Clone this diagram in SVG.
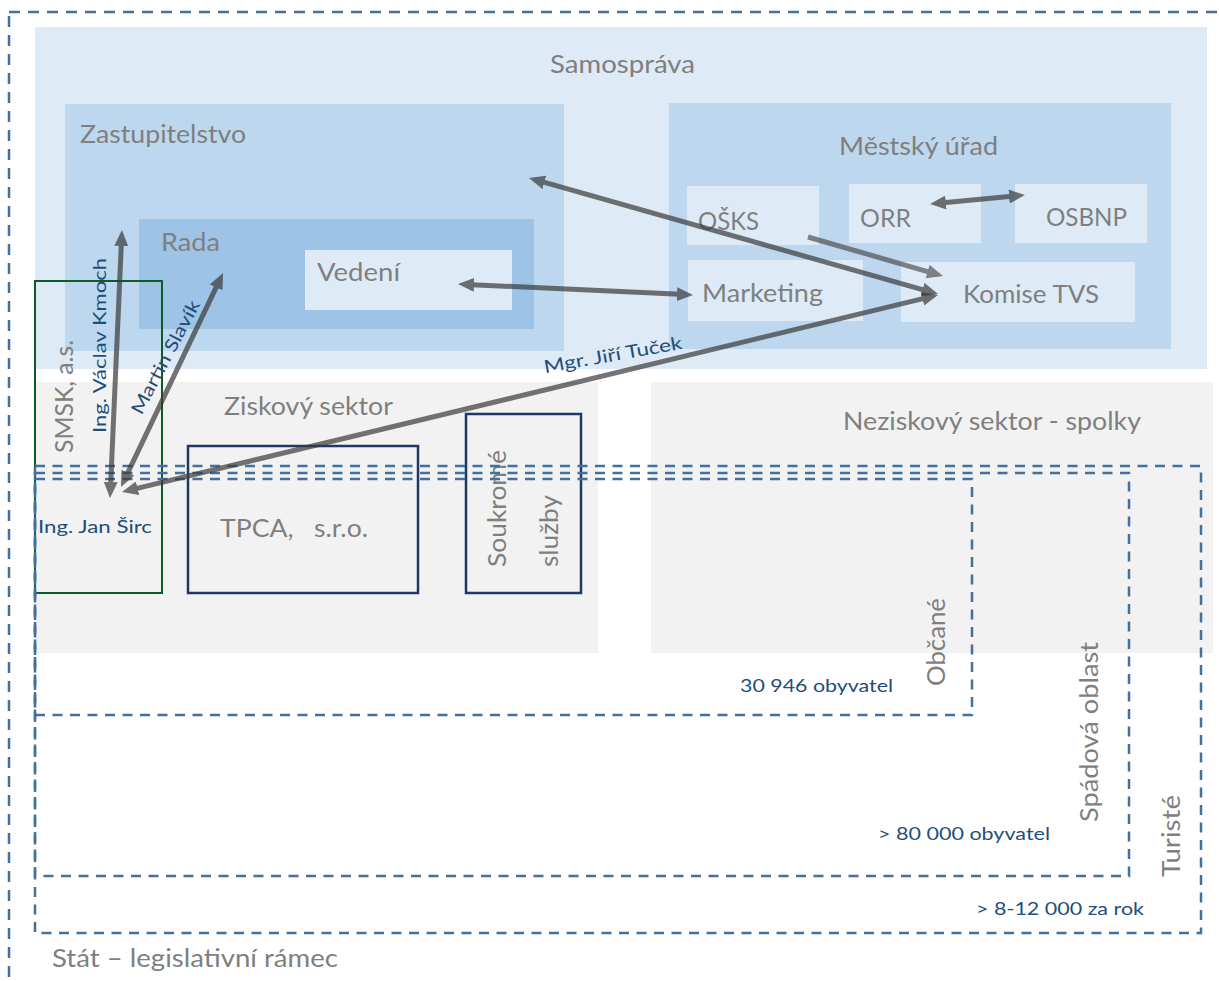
<svg xmlns="http://www.w3.org/2000/svg" width="1219" height="981" viewBox="0 0 1219 981">
<style>
.g{font-family:Lato,"Open Sans","Liberation Sans",sans-serif;fill:#7f7f7f;font-size:25px}
.b{font-family:Lato,"Open Sans","Liberation Sans",sans-serif;fill:#1f4e79;font-size:18px}
.dash{fill:none;stroke:#41719c;stroke-width:2.5;stroke-dasharray:10 7.5}
.odash{fill:none;stroke:#41719c;stroke-width:2.5;stroke-dasharray:11 8}
.l1{fill:#deeaf6}.l2{fill:#bdd7ee}.l3{fill:#9dc3e6}.l4{fill:#deebf7}
.sec{fill:#f2f2f2}
.navy{fill:none;stroke:#203864;stroke-width:2.5}
.arr{fill:none;stroke:#3a3a3a;stroke-width:5;marker-start:url(#ah);marker-end:url(#ah);opacity:0.7}
</style>
<defs>
<marker id="ah" viewBox="0 0 16 14" refX="8" refY="7" markerWidth="16" markerHeight="14" markerUnits="userSpaceOnUse" orient="auto-start-reverse"><path d="M0,0 L16,7 L0,14 z" fill="#3a3a3a"/></marker>
</defs>
<rect width="1219" height="981" fill="#ffffff"/>
<g id="stat"><rect class="odash" x="9" y="12" width="1240" height="1000"/>
<text class="g" x="52" y="967" font-size="23" textLength="286" lengthAdjust="spacingAndGlyphs">Stát – legislativní rámec</text></g>
<g id="samosprava"><rect class="l1" x="35" y="27" width="1172" height="342"/>
<text class="g" x="550" y="73" textLength="145" lengthAdjust="spacingAndGlyphs">Samospráva</text></g>
<g id="zastupitelstvo"><rect class="l2" x="65" y="104" width="499" height="247"/>
<text class="g" x="80" y="143" textLength="166" lengthAdjust="spacingAndGlyphs">Zastupitelstvo</text></g>
<g id="rada"><rect class="l3" x="139" y="219" width="395" height="110"/>
<text class="g" x="161" y="251" textLength="59" lengthAdjust="spacingAndGlyphs">Rada</text></g>
<g id="vedeni"><rect class="l4" x="305" y="250" width="207" height="60"/>
<text class="g" x="317" y="281" textLength="83" lengthAdjust="spacingAndGlyphs">Vedení</text></g>
<g id="mestsky-urad"><rect class="l2" x="669" y="103" width="502" height="246"/>
<text class="g" x="839" y="155" textLength="159" lengthAdjust="spacingAndGlyphs">Městský úřad</text></g>
<g id="osks"><rect class="l4" x="687" y="186" width="132" height="59"/>
<text class="g" x="698" y="230" textLength="61" lengthAdjust="spacingAndGlyphs">OŠKS</text></g>
<g id="orr"><rect class="l4" x="849" y="184" width="132" height="59"/>
<text class="g" x="860" y="227" textLength="51" lengthAdjust="spacingAndGlyphs">ORR</text></g>
<g id="osbnp"><rect class="l4" x="1015" y="184" width="132" height="59"/>
<text class="g" x="1046" y="226" textLength="81" lengthAdjust="spacingAndGlyphs">OSBNP</text></g>
<g id="marketing"><rect class="l4" x="688" y="260" width="175" height="61"/>
<text class="g" x="702" y="302" textLength="121" lengthAdjust="spacingAndGlyphs">Marketing</text></g>
<g id="komise-tvs"><rect class="l4" x="901" y="262" width="234" height="60"/>
<text class="g" x="963" y="303" textLength="136" lengthAdjust="spacingAndGlyphs">Komise TVS</text></g>
<g id="ziskovy-sektor"><rect class="sec" x="35" y="382" width="563" height="271"/>
<text class="g" x="224" y="415" textLength="169" lengthAdjust="spacingAndGlyphs">Ziskový sektor</text></g>
<g id="neziskovy-sektor"><rect class="sec" x="651" y="382" width="562" height="271"/>
<text class="g" x="843" y="430" textLength="298" lengthAdjust="spacingAndGlyphs">Neziskový sektor - spolky</text></g>
<g id="smsk"><rect x="35" y="281" width="127" height="312" fill="none" stroke="#0e5b2a" stroke-width="2"/>
<text class="g" transform="translate(73,453) rotate(-90)" font-size="22" textLength="113" lengthAdjust="spacingAndGlyphs">SMSK, a.s.</text></g>
<g id="tpca"><rect class="navy" x="188" y="446" width="230" height="147"/>
<text class="g" x="220" y="537" xml:space="preserve" textLength="148" lengthAdjust="spacingAndGlyphs">TPCA,   s.r.o.</text></g>
<g id="soukrome-sluzby"><rect class="navy" x="466" y="414" width="115" height="179"/>
<text class="g" transform="translate(506,567) rotate(-90)" textLength="117" lengthAdjust="spacingAndGlyphs">Soukromé</text>
<text class="g" transform="translate(558,567) rotate(-90)" textLength="72" lengthAdjust="spacingAndGlyphs">služby</text></g>
<g id="obcane"><rect class="dash" x="35" y="479" width="937" height="236"/>
<text class="g" transform="translate(945,686) rotate(-90)" textLength="88" lengthAdjust="spacingAndGlyphs">Občané</text>
<text class="b" x="740" y="692" font-size="19" textLength="153" lengthAdjust="spacingAndGlyphs">30 946 obyvatel</text></g>
<g id="spadova-oblast"><rect class="dash" x="35" y="473" width="1094" height="403"/>
<text class="g" transform="translate(1098,822) rotate(-90)" textLength="180" lengthAdjust="spacingAndGlyphs">Spádová oblast</text>
<text class="b" x="878" y="840" font-size="19" textLength="172" lengthAdjust="spacingAndGlyphs">&gt; 80 000 obyvatel</text></g>
<g id="turiste"><rect class="dash" x="35" y="466" width="1166" height="467"/>
<text class="g" transform="translate(1180,877) rotate(-90)" textLength="82" lengthAdjust="spacingAndGlyphs">Turisté</text>
<text class="b" x="976" y="915" font-size="19" textLength="168" lengthAdjust="spacingAndGlyphs">&gt; 8-12 000 za rok</text></g>
<g id="jan-sirc"><text class="b" x="38" y="533" textLength="114" lengthAdjust="spacingAndGlyphs">Ing. Jan Širc</text></g>
<g id="connectors">
<path class="arr" d="M121.6,238 L110.4,490"/>
<path class="arr" d="M219.6,280.2 L124.4,479.8"/>
<path class="arr" d="M129.8,490.1 L930.2,296.9"/>
<path class="arr" d="M536.7,180.2 L930.3,291.8"/>
<path class="arr" d="M466,284.4 L685,294.6"/>
<path class="arr" d="M808,237 L935.3,273.8" style="marker-start:none;opacity:0.6"/>
<path class="arr" d="M938,203.2 L1017,195.8"/>
<text class="b" transform="translate(106,433) rotate(-90)" textLength="175" lengthAdjust="spacingAndGlyphs">Ing. Václav Kmoch</text>
<text class="b" transform="translate(171,360) rotate(-62)" text-anchor="middle" textLength="126" lengthAdjust="spacingAndGlyphs">Martin Slavík</text>
<text class="b" transform="translate(614,361) rotate(-10)" text-anchor="middle" textLength="140" lengthAdjust="spacingAndGlyphs">Mgr. Jiří Tuček</text>
</g>
</svg>
